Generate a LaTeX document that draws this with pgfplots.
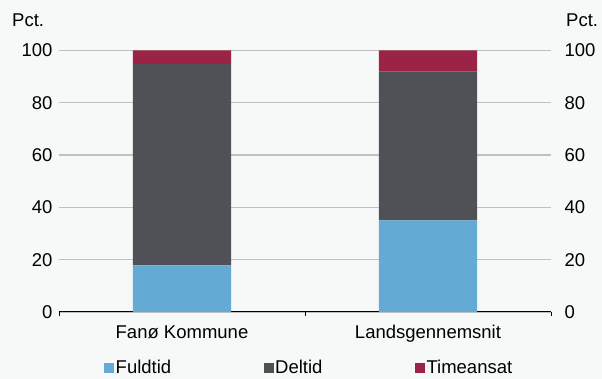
\documentclass[border=0pt]{standalone}
\usepackage{fontspec}
\setmainfont{Liberation Sans}
\usepackage{pgfplots}
\pgfplotsset{compat=1.18}
\definecolor{bg}{RGB}{247,249,249}
\definecolor{fuld}{RGB}{99,170,212}
\definecolor{del}{RGB}{80,81,87}
\definecolor{time}{RGB}{155,35,70}
\definecolor{gridc}{RGB}{192,192,192}
\newcommand\cf{\fontsize{18.5}{22}\selectfont}

\begin{document}
\begin{tikzpicture}[x=1pt,y=1pt]
\fill[bg] (0,0) rectangle (602,379);
\begin{axis}[
  at={(59pt,67pt)}, anchor=south west,
  scale only axis, width=492pt, height=261.5pt,
  ybar stacked, bar width=0.4,
  xmin=-0.5, xmax=1.5, ymin=0, ymax=100,
  axis x line*=bottom, axis y line*=left,
  y axis line style={draw=none},
  x axis line style={black, line width=1pt},
  xtick={-0.5,0.5,1.5}, xticklabels={},
  major tick length=4pt, tick align=outside,
  xtick style={black, line width=1pt},
  ytick style={draw=none},
  extra x ticks={0,1}, extra x tick labels={Fanø Kommune, Landsgennemsnit},
  extra x tick style={major tick length=0pt},
  ytick={0,20,...,100},
  ymajorgrids, grid style={gridc, line width=1.2pt},
  /pgf/number format/assume math mode=true,
  yticklabel style={font=\cf, xshift=1pt},
  xticklabel style={font=\cf, yshift=-10pt},
  legend columns=3,
  legend style={at={(axis description cs:0.0915,-0.214)}, anchor=west,
    draw=none, fill=none, inner sep=0pt, font=\cf,
    nodes={inner sep=1.5pt},
    /tikz/every even column/.append style={column sep=91pt}},
  legend image code/.code={\fill[#1] (0pt,-5pt) rectangle (10pt,5pt);},
]
\addplot[fill=fuld, draw=none] coordinates {(0,17.8) (1,35.0)};
\addplot[fill=del, draw=none] coordinates {(0,77.0) (1,56.9)};
\addplot[fill=time, draw=none] coordinates {(0,5.2) (1,8.1)};
\legend{Fuldtid, Deltid, Timeansat}
\draw[black, line width=1pt] (rel axis cs:0,0) -- (rel axis cs:1,0);
\end{axis}
\begin{axis}[
  at={(59pt,67pt)}, anchor=south west,
  scale only axis, width=492pt, height=261.5pt,
  xmin=0, xmax=1, ymin=0, ymax=100,
  hide x axis, axis y line*=right,
  y axis line style={draw=none},
  ytick={0,20,...,100}, ytick style={draw=none},
  /pgf/number format/assume math mode=true,
  yticklabel style={font=\cf, xshift=10pt},
]
\end{axis}
\node[anchor=west, font=\cf, inner sep=0pt] at (12,359) {Pct.};
\node[anchor=west, font=\cf, inner sep=0pt] at (566,359) {Pct.};
\pgfresetboundingbox
\useasboundingbox (0,0) rectangle (602,379);
\end{tikzpicture}
\end{document}
